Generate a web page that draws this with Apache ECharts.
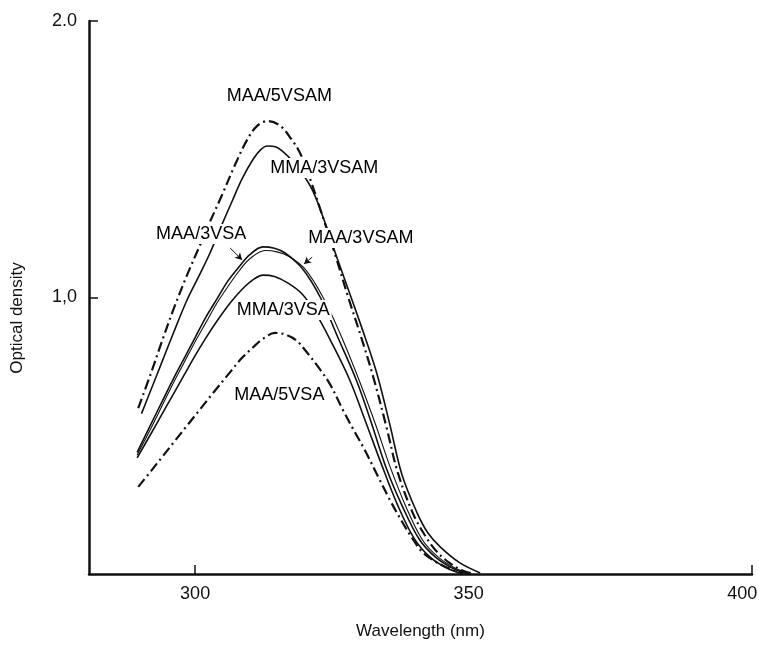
<!DOCTYPE html>
<html>
<head>
<meta charset="utf-8">
<script src="https://cdn.jsdelivr.net/npm/echarts@6/dist/echarts.min.js"></script>
<style>
html,body{margin:0;padding:0;background:#fff;}
#chart{width:759px;height:645px;}
</style>
</head>
<body>
<div id="chart"></div>
<script>
// ---- data (wavelength in nm, optical density) ----
const maa5vsamX = [289.6,292,294,296,298.5,300.9,302.4,304.9,307.3,309.5,311.3,313.2,315.5,317.5,319.2,321.0,323.2,325.6,328.0,330.3,332.6,335,337,339.8,342,344,346.5,349,351];
const maa5vsamY = [0.60,0.73,0.845,0.955,1.08,1.19,1.26,1.37,1.48,1.57,1.62,1.638,1.622,1.575,1.522,1.43,1.30,1.155,1.0,0.86,0.71,0.53,0.37,0.22,0.14,0.085,0.04,0.012,0];

const mma3vsamX = [290.2,292,294,296,298.5,300.5,302.7,304.6,306.8,308.6,310.6,312,313.2,314.7,316.2,317.5,319.2,321.4,323.4,326,328.7,331,333.3,335.6,337.8,340.6,342.5,344.8,348.4,352.1];
const mma3vsamY = [0.58,0.67,0.77,0.87,0.99,1.07,1.16,1.25,1.35,1.43,1.50,1.535,1.548,1.545,1.525,1.50,1.46,1.39,1.29,1.14,0.99,0.86,0.72,0.54,0.36,0.22,0.15,0.098,0.04,0.004];

const maa3vsaX = [289.4,292,294,296,298,300,302,304,306,308,310,312.4,314.5,316.5,319.6,322.9,326,329.5,332,335,338,341,344,347,350];
const maa3vsaY = [0.44,0.545,0.625,0.705,0.78,0.855,0.93,0.995,1.06,1.11,1.155,1.183,1.178,1.16,1.105,1.0,0.86,0.70,0.56,0.38,0.24,0.125,0.06,0.022,0];

const maa3vsamX = [289.4,292,294,296,298,300,302,304,306,308,310,312.8,315,317,320,323.4,326.5,330,333,335.6,338.5,341.5,344.5,347.5,350.5];
const maa3vsamY = [0.43,0.53,0.61,0.69,0.765,0.84,0.91,0.98,1.04,1.095,1.14,1.17,1.165,1.15,1.105,1.0,0.87,0.70,0.54,0.39,0.245,0.125,0.06,0.022,0];

const mma3vsaX = [289.4,292,294,296,298,300,302,304,306.4,308.6,310.5,312.4,314.5,317,319.6,322,325,328.3,331,334,337,340,343,346,349];
const mma3vsaY = [0.42,0.51,0.58,0.65,0.72,0.79,0.855,0.915,0.98,1.03,1.063,1.081,1.076,1.052,1.012,0.945,0.835,0.70,0.56,0.40,0.25,0.13,0.06,0.022,0];

const maa5vsaX = [289.6,292,294,296,298.5,301,303.5,306.4,308.5,310.6,312.5,314.6,316.5,318.5,320.5,322.9,324.7,327.1,329,331.1,333.5,335.6,337.8,339.9,341.5,343.5,345.5,347.2,349];
const maa5vsaY = [0.315,0.374,0.424,0.474,0.536,0.598,0.66,0.73,0.78,0.82,0.852,0.872,0.866,0.845,0.80,0.738,0.685,0.59,0.52,0.445,0.35,0.268,0.19,0.123,0.08,0.05,0.028,0.015,0.005];

// tick labels
const xTickValues = [300, 350, 400];
const yTickValues = [1.0, 2.0];
const yTickText = {1: '1,0', 2: '2.0'};

// curve annotations (name, wavelength, optical density)
const labelNames = ['MAA/5VSAM','MMA/3VSAM','MAA/3VSA','MAA/3VSAM','MMA/3VSA','MAA/5VSA'];
const labelX = [315.4, 323.6, 301.1, 330.3, 316.1, 315.4];
const labelY = [1.729, 1.468, 1.23, 1.215, 0.955, 0.647];
// arrows (from -> to)
const arrowFrom = [[306.4, 1.179], [321.4, 1.146]];
const arrowTo   = [[308.6, 1.136], [319.9, 1.121]];

const zip = (xs, ys) => xs.map((x, i) => [x, ys[i]]);
const INK = '#111';
const dashDot = [10, 4, 2, 4];

function curve(name, xs, ys, type, width) {
  return {
    name: name, type: 'line', data: zip(xs, ys), smooth: 0.35,
    showSymbol: false, symbol: 'none', silent: true,
    lineStyle: { color: INK, width: width, type: type }
  };
}

const chart = echarts.init(document.getElementById('chart'), null, { renderer: 'canvas' });
const FONT = 'Liberation Sans, Arial, sans-serif';

const option = {
  animation: false,
  backgroundColor: '#fff',
  grid: { left: 89, right: 7, top: 21, bottom: 71, outerBoundsMode: 'none', containLabel: false },
  xAxis: {
    type: 'value', min: 280.6, max: 401.8,
    name: 'Wavelength (nm)', nameLocation: 'middle', nameGap: 49,
    nameTextStyle: { fontFamily: FONT, fontSize: 17, color: INK },
    axisLine: { show: true, onZero: false, lineStyle: { color: INK, width: 2.5 } },
    axisTick: { show: true, inside: true, length: 9, customValues: [300, 401.8], lineStyle: { color: INK, width: 1.5 } },
    axisLabel: { customValues: xTickValues, fontFamily: FONT, fontSize: 18, color: INK, margin: 11 },
    splitLine: { show: false }
  },
  yAxis: {
    type: 'value', min: 0, max: 2.0,
    axisLine: { show: true, onZero: false, lineStyle: { color: INK, width: 2.5 } },
    axisTick: { show: true, inside: true, length: 9, customValues: yTickValues, lineStyle: { color: INK, width: 1.5 } },
    axisLabel: { customValues: yTickValues, formatter: v => yTickText[Math.round(v)], fontFamily: FONT, fontSize: 18, color: INK, margin: 12 },
    splitLine: { show: false }
  },
  graphic: [{
    type: 'text', x: 17, y: 318, rotation: Math.PI / 2,
    style: { text: 'Optical density', font: '17px ' + FONT, fill: INK, textAlign: 'center', textVerticalAlign: 'middle' }
  }],
  series: [
    curve('MAA/5VSAM', maa5vsamX, maa5vsamY, dashDot, 2.2),
    curve('MMA/3VSAM', mma3vsamX, mma3vsamY, 'solid', 1.6),
    curve('MAA/3VSA', maa3vsaX, maa3vsaY, 'solid', 1.6),
    curve('MAA/3VSAM', maa3vsamX, maa3vsamY, 'solid', 1.1),
    curve('MMA/3VSA', mma3vsaX, mma3vsaY, 'solid', 1.6),
    curve('MAA/5VSA', maa5vsaX, maa5vsaY, dashDot, 2.2),
    {
      name: 'labels', type: 'scatter', symbolSize: 0, silent: true, z: 10,
      itemStyle: { color: '#fff', opacity: 0 },
      data: labelNames.map((n, i) => ({ name: n, value: [labelX[i], labelY[i]] })),
      label: {
        show: true, position: 'inside', formatter: '{b}', fontFamily: FONT, fontSize: 18,
        color: '#000', textBorderWidth: 0, opacity: 1, backgroundColor: '#fff', padding: [1, 2]
      },
      markLine: {
        silent: true, symbol: ['none', 'arrow'], symbolSize: [6, 7], z: 11,
        label: { show: false },
        lineStyle: { color: INK, width: 1, type: 'solid' },
        data: arrowFrom.map((f, i) => [{ coord: f }, { coord: arrowTo[i] }])
      }
    }
  ]
};
chart.setOption(option);
</script>
</body>
</html>
